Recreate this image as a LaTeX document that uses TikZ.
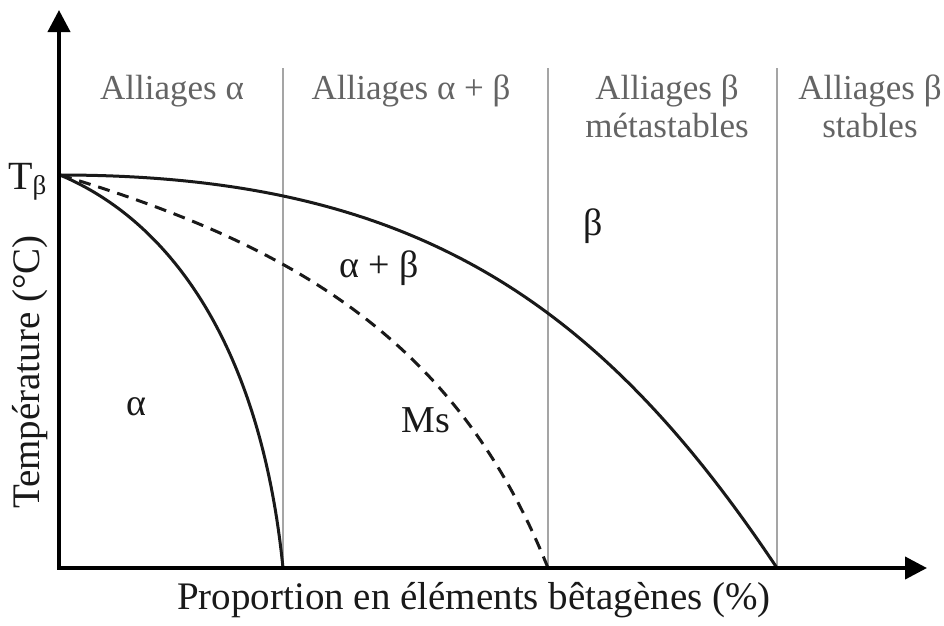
\documentclass[tikz,border=0pt]{standalone}
\usepackage{fontspec}
\setmainfont{Liberation Serif}
\usetikzlibrary{arrows.meta}
\definecolor{hdr}{RGB}{100,100,100}
\definecolor{sep}{RGB}{165,165,165}
\definecolor{ink}{RGB}{25,25,25}
\begin{document}
\begin{tikzpicture}[x=1pt,y=-1pt,
  axis/.style={line width=4pt,{Triangle[length=22pt,width=22pt]}-{Triangle[length=22pt,width=22pt]}},
  sepline/.style={sep,line width=1.6pt},
  curve/.style={ink,line width=3pt},
  dcurve/.style={ink,line width=3pt,dash pattern=on 12pt off 8pt},
  hdrtxt/.style={text=hdr,font=\fontsize{35}{38}\selectfont,anchor=base,inner sep=0pt},
  lbl/.style={text=ink,font=\fontsize{38}{40}\selectfont,anchor=base,inner sep=0pt},
  axlbl/.style={text=ink,font=\fontsize{39}{42}\selectfont,inner sep=0pt}]
\useasboundingbox (0,0) rectangle (944,625);
\fill[white] (0,0) rectangle (944,625);
% key points
\coordinate (O) at (59,568);
\coordinate (ytip) at (59,10);
\coordinate (xtip) at (927,568);
\coordinate (Tb) at (60,175);
\coordinate (a0) at (283,568);
\coordinate (m0) at (548,568);
\coordinate (b0) at (777,568);
\coordinate (s1t) at (283,68);
\coordinate (s2t) at (548,68);
\coordinate (s3t) at (777,68);
% separators
\draw[sepline] (s1t) -- (a0);
\draw[sepline] (s2t) -- (m0);
\draw[sepline] (s3t) -- (b0);
% curves
\draw[curve] (Tb) .. controls (172,222) and (261,348) .. (a0);
\draw[dcurve] (Tb) .. controls (290,244) and (456,338) .. (m0);
\draw[curve] (Tb) .. controls (410,175) and (597,298) .. (b0);
% axes
\draw[axis] (ytip) -- (O) -- (xtip);
% headers
\node[hdrtxt] (h1) at (172,99) {Alliages α};
\node[hdrtxt] (h2) at (411,99) {Alliages α + β};
\node[hdrtxt] (h3a) at (667,99) {Alliages β};
\node[hdrtxt] (h3b) at (667,137) {métastables};
\node[hdrtxt] (h4a) at (870,99) {Alliages β};
\node[hdrtxt] (h4b) at (870,137) {stables};
% region labels
\node[lbl] (la) at (136,415) {α};
\node[lbl] (lab) at (379,277) {α + β};
\node[lbl] (lms) at (426,432) {Ms};
\node[lbl] (lb) at (593,235) {β};
% Tbeta
\node[text=ink,anchor=base west,inner sep=0pt] (tb) at (8,189) {\fontsize{40}{40}\selectfont T\raisebox{-5pt}{\fontsize{27}{27}\selectfont β}};
% axis labels
\node[axlbl,rotate=90] (ylab) at (30,372) {Température (°C)};
\node[axlbl] (xlab) at (474,600) {Proportion en éléments bêtagènes (\%)};
\end{tikzpicture}
\end{document}
